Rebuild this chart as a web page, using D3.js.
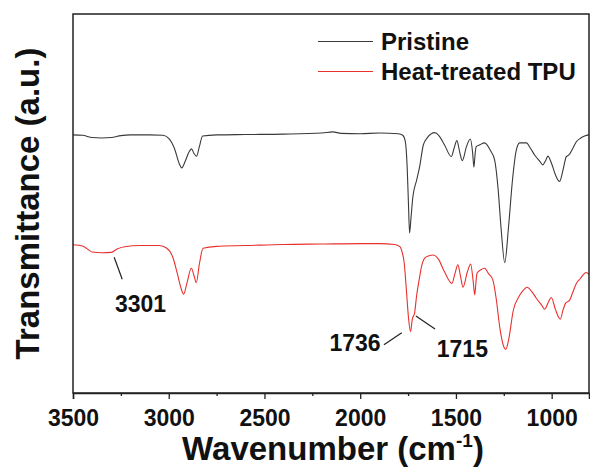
<!DOCTYPE html>
<html>
<head>
<meta charset="utf-8">
<script src="https://cdn.jsdelivr.net/npm/d3@7"></script>
<style>
  body { margin: 0; background: #fff; }
  text { font-family: "Liberation Sans", Arial, sans-serif; font-weight: bold; fill: #111; }
</style>
</head>
<body>
<div class="chartspace"></div>
<script>
// spectra: [wavenumber, transmittance (a.u.)]
var pristine = [
  [3500, 68.1], [3450, 68.0], [3400, 67.4], [3350, 67.3], [3300, 67.4], [3250, 67.9],
  [3200, 68.1], [3100, 68.1], [3030, 68.0], [3000, 67.2], [2970, 64.5], [2945, 60.5],
  [2932, 59.4], [2915, 61.0], [2895, 63.5], [2881, 64.4], [2868, 63.2], [2855, 62.5],
  [2840, 65.0], [2823, 67.8], [2750, 68.1], [2600, 68.2], [2400, 68.3], [2200, 68.6],
  [2143, 68.9], [2100, 68.5], [2000, 68.4], [1900, 68.6], [1800, 68.4], [1778, 68.0],
  [1765, 66.5], [1755, 60.0], [1748, 50.0], [1742, 42.2], [1735, 46.0], [1725, 51.7],
  [1705, 56.2], [1690, 59.6], [1670, 65.5], [1650, 67.3], [1611, 68.7], [1590, 68.0],
  [1560, 65.5], [1524, 62.4], [1510, 64.5], [1495, 66.6], [1480, 63.5], [1467, 61.3],
  [1445, 65.0], [1425, 67.0], [1413, 63.5], [1406, 59.6], [1400, 63.0], [1394, 65.0],
  [1375, 65.5], [1350, 66.0], [1320, 64.0], [1298, 61.5], [1280, 54.0], [1265, 44.0],
  [1245, 34.4], [1225, 44.0], [1205, 56.0], [1185, 64.0], [1167, 66.0], [1132, 66.0],
  [1110, 64.5], [1089, 62.8], [1060, 61.0], [1047, 60.2], [1030, 61.5], [1020, 62.5],
  [1000, 60.5], [980, 57.5], [959, 55.8], [940, 59.0], [924, 62.3], [910, 62.8],
  [890, 64.5], [871, 66.3], [850, 67.2], [828, 67.8], [805, 68.1]
];

var heatTreated = [
  [3500, 39.1], [3450, 38.8], [3400, 37.2], [3350, 37.0], [3300, 37.1], [3270, 38.0],
  [3230, 38.6], [3150, 38.9], [3050, 38.9], [3010, 38.2], [2980, 36.0], [2955, 31.5],
  [2935, 27.5], [2922, 26.1], [2905, 29.0], [2882, 32.9], [2868, 31.0], [2856, 29.1],
  [2840, 34.0], [2821, 38.2], [2750, 38.7], [2600, 38.9], [2400, 39.2], [2200, 39.3],
  [2000, 39.4], [1900, 39.4], [1820, 39.2], [1793, 38.6], [1780, 37.0], [1770, 34.3],
  [1760, 28.0], [1748, 20.0], [1737, 16.2], [1728, 19.5], [1716, 21.1], [1706, 25.4],
  [1690, 30.5], [1680, 33.3], [1663, 35.6], [1640, 36.2], [1620, 36.4], [1590, 35.2],
  [1560, 32.0], [1521, 28.9], [1505, 31.5], [1490, 33.8], [1475, 30.5], [1463, 27.9],
  [1440, 32.0], [1423, 34.0], [1410, 29.5], [1402, 25.9], [1395, 29.5], [1390, 31.6],
  [1370, 32.5], [1350, 32.9], [1330, 31.5], [1307, 29.8], [1290, 25.0], [1270, 17.0],
  [1250, 12.2], [1240, 11.5], [1225, 14.0], [1200, 21.9], [1170, 25.5], [1150, 27.0],
  [1129, 27.9], [1100, 26.5], [1080, 25.0], [1050, 23.0], [1037, 22.1], [1015, 24.2],
  [1002, 25.2], [980, 22.0], [955, 19.5], [940, 22.0], [927, 23.7], [906, 24.5],
  [890, 26.5], [871, 28.9], [850, 30.2], [837, 31.1], [820, 31.8], [805, 31.3]
];

var seriesNames = ["Pristine", "Heat-treated TPU"];
var seriesColors = ["#3a3a3a", "#e8312e"];

var majorTicks = [3500, 3000, 2500, 2000, 1500, 1000];
var minorTicks = [3250, 2750, 2250, 1750, 1250];

// peak labels: leader line from (x1,y1) to (x2,y2), text at (tx,ty), all in data units
var peakLabels = [
  { label: "3301", x1: 3285, y1: 35.8, x2: 3243, y2: 30.0, tx: 3281, ty: 21.4, anchor: "start" },
  { label: "1736", x1: 1783, y1: 15.9, x2: 1876, y2: 12.7, tx: 1893, ty: 11.2, anchor: "end" },
  { label: "1715", x1: 1709, y1: 20.3, x2: 1609, y2: 16.9, tx: 1600, ty: 9.6, anchor: "start" }
];

var width = 590, height = 469;
var plotLeft = 73, plotRight = 589, plotTop = 14, plotBottom = 393;

var svg = d3.select(".chartspace").append("svg")
    .attr("width", width)
    .attr("height", height);

var x = d3.scaleLinear().domain([3500, 805]).range([plotLeft, plotRight]);
var y = d3.scaleLinear().domain([0, 100]).range([plotBottom, plotTop]);

var line = d3.line()
    .x(function (d) { return x(d[0]); })
    .y(function (d) { return y(d[1]); })
    .curve(d3.curveMonotoneX);

svg.selectAll("path.spectrum")
    .data([pristine, heatTreated])
    .enter()
    .append("path")
    .attr("class", "spectrum")
    .attr("d", line)
    .attr("fill", "none")
    .attr("stroke", function (d, i) { return seriesColors[i]; })
    .attr("stroke-width", 1.1);

// frame
svg.append("rect")
    .attr("x", plotLeft).attr("y", plotTop)
    .attr("width", plotRight - plotLeft).attr("height", plotBottom - plotTop)
    .attr("fill", "none").attr("stroke", "#222").attr("stroke-width", 1.5);

// x axis, major + minor ticks
var xAxis = svg.append("g")
    .attr("transform", "translate(0," + plotBottom + ")")
    .call(d3.axisBottom(x).tickValues(majorTicks).tickSize(6).tickPadding(11).tickFormat(d3.format("d")));
xAxis.select(".domain").attr("stroke", "#222").attr("stroke-width", 1.5);
xAxis.selectAll(".tick line").attr("stroke", "#222").attr("stroke-width", 1.3);
xAxis.selectAll(".tick text").style("font-size", "23px").attr("fill", "#111");

svg.append("g")
    .attr("transform", "translate(0," + plotBottom + ")")
    .call(d3.axisBottom(x).tickValues(minorTicks).tickSize(3).tickFormat(""))
    .call(function (g) { g.select(".domain").remove(); })
    .selectAll(".tick line").attr("stroke", "#222").attr("stroke-width", 1.3);

// axis titles
var xTitle = svg.append("text")
    .attr("x", (plotLeft + plotRight) / 2 + 2)
    .attr("y", 460)
    .attr("text-anchor", "middle")
    .style("font-size", "33px");
xTitle.append("tspan").text("Wavenumber (cm");
xTitle.append("tspan").text("-1").style("font-size", "19px").attr("dy", -13);
xTitle.append("tspan").text(")").attr("dy", 13);

svg.append("text")
    .attr("transform", "translate(39," + (plotTop + plotBottom) / 2 + ") rotate(-90)")
    .attr("text-anchor", "middle")
    .style("font-size", "33px")
    .text("Transmittance (a.u.)");

// legend
var legend = svg.selectAll("g.legend")
    .data(seriesNames.map(function (name, i) { return { name: name, color: seriesColors[i], row: i }; }))
    .enter()
    .append("g")
    .attr("class", "legend")
    .attr("transform", function (d) { return "translate(318," + (41.5 + d.row * 30) + ")"; });
legend.append("line")
    .attr("x1", 0).attr("x2", 55)
    .attr("stroke", function (d) { return d.color; })
    .attr("stroke-width", 1.1);
legend.append("text")
    .attr("x", 63).attr("y", 8.5)
    .style("font-size", "24px")
    .text(function (d) { return d.name; });

// peak labels
svg.selectAll("line.leader")
    .data(peakLabels)
    .enter()
    .append("line")
    .attr("class", "leader")
    .attr("x1", function (d) { return x(d.x1); })
    .attr("y1", function (d) { return y(d.y1); })
    .attr("x2", function (d) { return x(d.x2); })
    .attr("y2", function (d) { return y(d.y2); })
    .attr("stroke", "#222")
    .attr("stroke-width", 1.2);

svg.selectAll("text.peak")
    .data(peakLabels)
    .enter()
    .append("text")
    .attr("class", "peak")
    .attr("x", function (d) { return x(d.tx); })
    .attr("y", function (d) { return y(d.ty); })
    .attr("text-anchor", function (d) { return d.anchor; })
    .style("font-size", "23px")
    .text(function (d) { return d.label; });
</script>
</body>
</html>
